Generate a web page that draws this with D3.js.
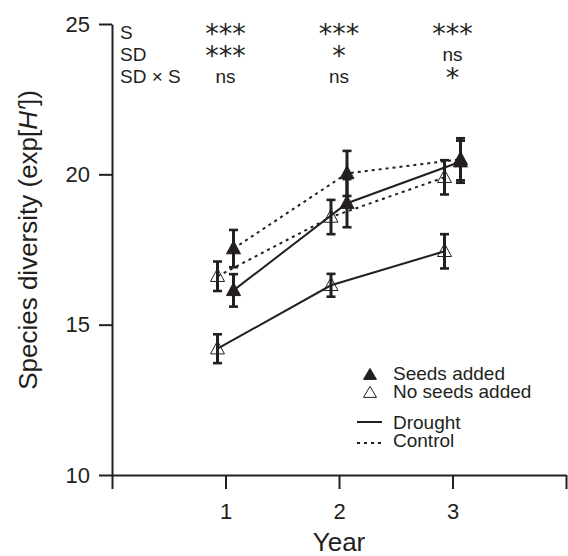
<!DOCTYPE html>
<html>
<head>
<meta charset="utf-8">
<script src="https://cdn.jsdelivr.net/npm/d3@7"></script>
<style>
  html, body { margin: 0; padding: 0; background: #fff; }
  svg { display: block; }
</style>
</head>
<body>
<svg id="chart" width="568" height="556"></svg>
<script>
// ---- data ----
const years = [1, 2, 3];
const seedsDrought = [16.14, 19.04, 20.42];
const seedsDroughtErr = [0.54, 0.80, 0.70];
const seedsControl = [17.53, 20.03, 20.50];
const seedsControlErr = [0.62, 0.75, 0.70];
const noSeedsDrought = [14.20, 16.31, 17.44];
const noSeedsDroughtErr = [0.48, 0.38, 0.57];
const noSeedsControl = [16.61, 18.58, 19.90];
const noSeedsControlErr = [0.49, 0.57, 0.57];

const sigRowLabels = ["S", "SD", "SD × S"];
const sigS = ["***", "***", "***"];
const sigSD = ["***", "*", "ns"];
const sigSDxS = ["ns", "ns", "*"];

const yTickValues = [10, 15, 20, 25];
const xTickValues = [0, 1, 2, 3, 4];
const xTickLabels = ["", "1", "2", "3", ""];

const legendMarkers = ["Seeds added", "No seeds added"];
const legendLines = ["Drought", "Control"];

// ---- setup ----
const INK = "#231f20";
const FONT = "'Liberation Sans', Arial, Helvetica, sans-serif";
const svg = d3.select("#chart");

const x = d3.scaleLinear().domain([0, 4]).range([112, 566]);
const y = d3.scaleLinear().domain([10, 25]).range([475, 24]);

// axes
const yAxis = svg.append("g")
  .attr("transform", `translate(${x(0)},0)`)
  .call(d3.axisLeft(y).tickValues(yTickValues).tickSize(13).tickSizeOuter(0).tickPadding(9));
const xAxis = svg.append("g")
  .attr("transform", `translate(0,${y(10)})`)
  .call(d3.axisBottom(x).tickValues(xTickValues).tickSize(14).tickSizeOuter(0).tickPadding(14)
        .tickFormat((d, i) => xTickLabels[i]));
[yAxis, xAxis].forEach(g => {
  g.selectAll("path.domain").attr("stroke", INK).attr("stroke-width", 2);
  g.selectAll(".tick line").attr("stroke", INK).attr("stroke-width", 2);
  g.selectAll(".tick text").attr("fill", INK).style("font-family", FONT).style("font-size", "22px");
});

// axis titles
svg.append("text")
  .attr("x", x(2)).attr("y", 551)
  .attr("text-anchor", "middle")
  .attr("fill", INK)
  .style("font-family", FONT).style("font-size", "26px")
  .text("Year");

const yt = svg.append("text")
  .attr("transform", "translate(37,240) rotate(-90)")
  .attr("text-anchor", "middle")
  .attr("fill", INK)
  .style("font-family", FONT).style("font-size", "26px");
yt.append("tspan").text("Species diversity (exp[");
yt.append("tspan").style("font-style", "italic").text("H′");
yt.append("tspan").text("])");

// ---- series ----
const OFF = 8; // px horizontal offset for seeds (+) vs no seeds (-)
const series = [
  { vals: noSeedsDrought, err: noSeedsDroughtErr, filled: false, dash: null },
  { vals: noSeedsControl, err: noSeedsControlErr, filled: false, dash: "3,4" },
  { vals: seedsDrought, err: seedsDroughtErr, filled: true, dash: null },
  { vals: seedsControl, err: seedsControlErr, filled: true, dash: "3,4" },
];

const px = (s, i) => x(years[i]) + (s.filled ? OFF : -OFF);

// lines
series.forEach(s => {
  const line = d3.line().x((d, i) => px(s, i)).y(d => y(d));
  svg.append("path")
    .attr("d", line(s.vals))
    .attr("fill", "none")
    .attr("stroke", INK)
    .attr("stroke-width", 2)
    .attr("stroke-dasharray", s.dash);
});

// error bars
series.forEach(s => {
  s.vals.forEach((v, i) => {
    const cx = px(s, i);
    const g = svg.append("g").attr("stroke", INK);
    g.append("line").attr("x1", cx).attr("x2", cx)
      .attr("y1", y(v - s.err[i])).attr("y2", y(v + s.err[i])).attr("stroke-width", 3);
    [v - s.err[i], v + s.err[i]].forEach(e => {
      g.append("line").attr("x1", cx - 4.5).attr("x2", cx + 4.5)
        .attr("y1", y(e)).attr("y2", y(e)).attr("stroke-width", 2.6);
    });
  });
});

// triangle markers
function triPath(cx, cy, w, h) {
  return `M${cx},${cy - h * 0.6}L${cx + w / 2},${cy + h * 0.4}L${cx - w / 2},${cy + h * 0.4}Z`;
}
series.forEach(s => {
  s.vals.forEach((v, i) => {
    svg.append("path")
      .attr("d", triPath(px(s, i), y(v), 14, 13))
      .attr("fill", s.filled ? INK : "none")
      .attr("stroke", INK)
      .attr("stroke-width", 1);
  });
});

// ---- significance table ----
const rowBase = [39, 61, 83];
const sigData = [sigS, sigSD, sigSDxS];
sigRowLabels.forEach((lab, r) => {
  svg.append("text")
    .attr("x", 120).attr("y", rowBase[r])
    .attr("fill", INK)
    .style("font-family", FONT).style("font-size", "19px")
    .text(lab);
  sigData[r].forEach((t, i) => {
    const isStar = t.indexOf("*") >= 0;
    svg.append("text")
      .attr("x", x(years[i]))
      .attr("y", isStar ? rowBase[r] + 4 : rowBase[r])
      .attr("text-anchor", "middle")
      .attr("fill", INK)
      .style("font-family", isStar ? "'DejaVu Sans', sans-serif" : FONT)
      .style("font-size", isStar ? "27px" : "19px")
      .text(t);
  });
});

// ---- legend ----
const legMarkY = [375, 393];
const legTextY = [380, 398];
legendMarkers.forEach((lab, i) => {
  svg.append("path")
    .attr("d", triPath(370, legMarkY[i], 13, 11))
    .attr("fill", i === 0 ? INK : "none")
    .attr("stroke", INK).attr("stroke-width", 1);
  svg.append("text")
    .attr("x", 393).attr("y", legTextY[i])
    .attr("fill", INK)
    .style("font-family", FONT).style("font-size", "19px")
    .text(lab);
});
const legLineY = [422, 443];
const legLineTextY = [429, 447];
legendLines.forEach((lab, i) => {
  svg.append("line")
    .attr("x1", 357).attr("x2", 382)
    .attr("y1", legLineY[i]).attr("y2", legLineY[i])
    .attr("stroke", INK).attr("stroke-width", 2)
    .attr("stroke-dasharray", i === 1 ? "3,4" : null);
  svg.append("text")
    .attr("x", 393).attr("y", legLineTextY[i])
    .attr("fill", INK)
    .style("font-family", FONT).style("font-size", "19px")
    .text(lab);
});
</script>
</body>
</html>
